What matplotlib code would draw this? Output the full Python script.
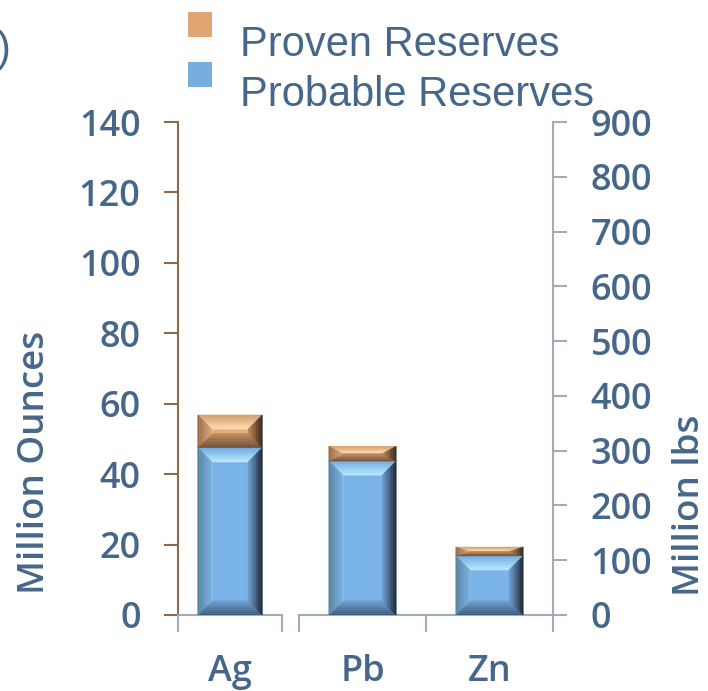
import matplotlib.pyplot as plt
from matplotlib.colors import to_rgb
from matplotlib.patches import Polygon, Rectangle

# reserves in million ounces (silver) and million lbs (lead, zinc)
metals_oz = ["Ag"]
probable_oz = [47.5]
proven_oz = [9.3]

metals_lbs = ["Pb", "Zn"]
probable_lbs = [281, 108]
proven_lbs = [27, 16]

TXT = "#46678A"
# bevel colours: (outer edge, inner edge) for each side
BLUE = dict(face="#79B3E7",
            top=("#6FA9DD", "#B4E8FF"), left=("#55829F", "#78B0E3"),
            right=("#16222F", "#6E9FD0"), bottom=("#3A5A7A", "#6C9ECF"))
ORANGE = dict(face="#E6AE7A",
              top=("#D09A68", "#FFDDAE"), left=("#98694A", "#DDA676"),
              right=("#33241A", "#C08858"), bottom=("#6E4C34", "#C08A5C"))

W, H = 708, 691
fig = plt.figure(figsize=(W / 100, H / 100), dpi=100)


def px_axes(x0, x1, y_top, y_bot):
    return fig.add_axes([x0 / W, (H - y_bot) / H, (x1 - x0) / W, (y_bot - y_top) / H])


def mix(a, b, t):
    a, b = to_rgb(a), to_rgb(b)
    return tuple(a[k] + (b[k] - a[k]) * t for k in range(3))


def bevel_bar(ax, xc, y0, h, w, col, bpx=14, steps=8):
    pos = ax.get_position()
    xr = ax.get_xlim()[1] - ax.get_xlim()[0]
    yr = ax.get_ylim()[1] - ax.get_ylim()[0]
    bx = bpx * xr / (pos.width * W)
    by = min(bpx * yr / (pos.height * H), h / 2)
    x0, x1, y1 = xc - w / 2, xc + w / 2, y0 + h
    ax.add_patch(Polygon([(x0 + bx, y0 + by), (x1 - bx, y0 + by), (x1 - bx, y1 - by), (x0 + bx, y1 - by)],
                         closed=True, facecolor=col["face"], edgecolor=col["face"], lw=0.5, zorder=3))
    for s in range(steps):
        fa, fb = s / steps, (s + 1) / steps
        t = (s + 0.5) / steps
        ax_, bx_ = bx * fa, bx * fb
        ay_, by_ = by * fa, by * fb
        bands = {
            "top": [(x0 + ax_, y1 - ay_), (x1 - ax_, y1 - ay_), (x1 - bx_, y1 - by_), (x0 + bx_, y1 - by_)],
            "bottom": [(x0 + ax_, y0 + ay_), (x1 - ax_, y0 + ay_), (x1 - bx_, y0 + by_), (x0 + bx_, y0 + by_)],
            "left": [(x0 + ax_, y0 + ay_), (x0 + bx_, y0 + by_), (x0 + bx_, y1 - by_), (x0 + ax_, y1 - ay_)],
            "right": [(x1 - ax_, y0 + ay_), (x1 - bx_, y0 + by_), (x1 - bx_, y1 - by_), (x1 - ax_, y1 - ay_)],
        }
        for side, pts in bands.items():
            c = mix(col[side][0], col[side][1], t)
            ax.add_patch(Polygon(pts, closed=True, facecolor=c, edgecolor=c, lw=0.4, zorder=3))


def style_axis(ax, side, spine_col):
    for s in ["top", "left", "right"]:
        ax.spines[s].set_visible(False)
    ax.spines[side].set_visible(True)
    ax.spines[side].set_color(spine_col)
    ax.spines[side].set_linewidth(1.5)
    ax.spines["bottom"].set_color("#A3ABBA")
    ax.spines["bottom"].set_linewidth(1.5)
    ax.tick_params(axis="y", direction="out", length=10, width=1.5, color=spine_col, pad=17,
                   labelsize=26, labelcolor=TXT, left=(side == "left"), right=(side == "right"),
                   labelleft=(side == "left"), labelright=(side == "right"))
    ax.tick_params(axis="x", which="both", length=0, pad=28, labelsize=26, labelcolor=TXT)
    ax.tick_params(axis="x", which="minor", direction="out", length=12, width=1.5, color="#A3ABBA")
    for lab in ax.get_yticklabels() + ax.get_xticklabels():
        lab.set_family("Open Sans")
        lab.set_weight("semibold")


# left axes: silver, million ounces
ax1 = px_axes(178, 282, 122, 615)
ax1.set_xlim(-0.5, len(metals_oz) - 0.5)
ax1.set_ylim(0, 140)
ax1.set_yticks(range(0, 141, 20))
ax1.set_xticks(range(len(metals_oz)))
ax1.set_xticklabels(metals_oz)
ax1.set_xticks([-0.5, len(metals_oz) - 0.5], minor=True)
style_axis(ax1, "left", "#8C6A4C")
for i in range(len(metals_oz)):
    bevel_bar(ax1, i, 0, probable_oz[i], 0.62, BLUE)
    bevel_bar(ax1, i, probable_oz[i], proven_oz[i], 0.62, ORANGE)

# right axes: lead and zinc, million lbs
ax2 = px_axes(299, 553, 122, 615)
ax2.set_xlim(-0.5, len(metals_lbs) - 0.5)
ax2.set_ylim(0, 900)
ax2.set_yticks(range(0, 901, 100))
ax2.set_xticks(range(len(metals_lbs)))
ax2.set_xticklabels(metals_lbs)
ax2.set_xticks([k - 0.5 for k in range(len(metals_lbs) + 1)], minor=True)
style_axis(ax2, "right", "#A3ABBA")
for i in range(len(metals_lbs)):
    bevel_bar(ax2, i, 0, probable_lbs[i], 0.53, BLUE)
    bevel_bar(ax2, i, probable_lbs[i], proven_lbs[i], 0.53, ORANGE)

fig.text(35 / W, 1 - 462 / H, "Million Ounces", rotation=90, ha="center", va="center",
         fontsize=26.5, color=TXT, family="Open Sans", weight="semibold")
fig.text(690 / W, 1 - 505 / H, "Million lbs", rotation=90, ha="center", va="center",
         fontsize=26.5, color=TXT, family="Open Sans", weight="semibold")

# legend
leg_items = [("Proven Reserves", "#DFA572", 45), ("Probable Reserves", "#77AEE0", 95)]
for label, c, yc in leg_items:
    fig.patches.append(Rectangle((188 / W, 1 - (yc - 8) / H), 24 / W, 25 / H,
                                 transform=fig.transFigure, facecolor=c, edgecolor="none"))
    fig.text(240 / W, 1 - yc / H, label, ha="left", va="center", fontsize=30,
             color=TXT, family="Liberation Sans")

fig.text(-0.004, 1 - 50 / H, ")", ha="left", va="center", fontsize=30, color=TXT,
         family="Liberation Sans")

fig.savefig("out.png", dpi=100)
